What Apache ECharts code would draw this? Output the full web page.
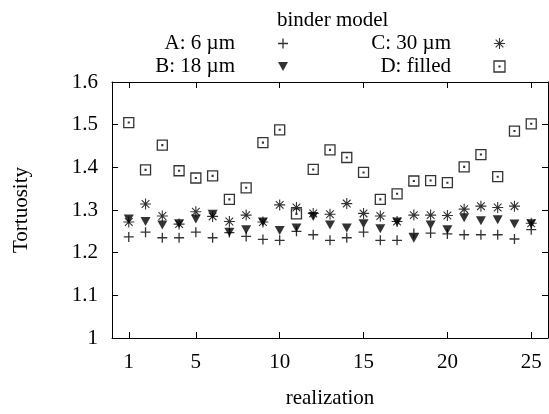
<!DOCTYPE html>
<html>
<head>
<meta charset="utf-8">
<script src="https://cdn.jsdelivr.net/npm/echarts@6/dist/echarts.min.js"></script>
<style>
  html, body { margin: 0; padding: 0; background: #fff; }
  #chart { width: 549px; height: 414px; }
</style>
</head>
<body>
<div id="chart"></div>
<script>
// realization index 1..25
const realization = [1, 2, 3, 4, 5, 6, 7, 8, 9, 10, 11, 12, 13, 14, 15, 16, 17, 18, 19, 20, 21, 22, 23, 24, 25]
const xTicks = [1, 5, 10, 15, 20, 25]

// tortuosity per binder model
const modelA = [1.237, 1.248, 1.235, 1.235, 1.248, 1.235, 1.247, 1.238, 1.231, 1.229, 1.250, 1.242, 1.229, 1.235, 1.248, 1.229, 1.229, 1.245, 1.246, 1.244, 1.242, 1.242, 1.242, 1.232, 1.254]
const modelB = [1.279, 1.273, 1.265, 1.268, 1.279, 1.290, 1.248, 1.254, 1.272, 1.252, 1.258, 1.285, 1.265, 1.258, 1.268, 1.256, 1.272, 1.234, 1.265, 1.254, 1.282, 1.275, 1.277, 1.267, 1.268]
const modelC = [1.272, 1.314, 1.286, 1.267, 1.296, 1.285, 1.273, 1.288, 1.272, 1.312, 1.306, 1.292, 1.290, 1.315, 1.292, 1.286, 1.273, 1.288, 1.288, 1.287, 1.302, 1.309, 1.306, 1.309, 1.269]
const modelD = [1.505, 1.394, 1.452, 1.392, 1.375, 1.380, 1.325, 1.352, 1.458, 1.488, 1.291, 1.395, 1.441, 1.423, 1.388, 1.325, 1.338, 1.368, 1.369, 1.364, 1.401, 1.430, 1.378, 1.485, 1.502]

const font = 'Liberation Serif'
const fontSize = 21

/* gnuplot-like point types */
const symPlus = 'path://M5,0L5,10M0,5L10,5'
const symTri = 'path://M0,0L10,0L5,9Z'
const symStar = 'path://M5,0L5,10M0,5L10,5M1.5,1.5L8.5,8.5M1.5,8.5L8.5,1.5'
const symBox = 'path://M0,0L10,0L10,10L0,10ZM4.6,4.6L5.4,4.6L5.4,5.4L4.6,5.4Z'

const strokeStyle = { color: 'none', borderColor: '#000', borderWidth: 1.3 }
const starStyle = { color: 'none', borderColor: '#000', borderWidth: 1.1 }
const fillStyle = { color: '#000', borderWidth: 0 }

function pairs(vals) {
  return realization.map((r, i) => [r, vals[i]])
}

const chart = echarts.init(document.getElementById('chart'))

const legendText = {
  fontFamily: font,
  fontSize: fontSize,
  color: '#000',
  rich: {
    t: { width: 120, align: 'right', padding: [0, 38, 0, 0], fontFamily: font, fontSize: fontSize, lineHeight: 22 }
  }
}

chart.setOption({
  animation: false,
  title: {
    text: 'binder model',
    left: 272,
    top: 5,
    textStyle: { fontFamily: font, fontSize: fontSize, fontWeight: 'normal', color: '#000' }
  },
  legend: [
    {
      orient: 'vertical',
      align: 'right',
      left: 115,
      top: 33,
      padding: 0,
      itemGap: 2,
      itemWidth: 10,
      itemHeight: 10,
      formatter: '{t|{name}}',
      textStyle: legendText,
      data: [
        { name: 'A: 6 µm', icon: symPlus, itemStyle: strokeStyle },
        { name: 'B: 18 µm', icon: symTri, itemStyle: fillStyle }
      ]
    },
    {
      orient: 'vertical',
      align: 'right',
      left: 331,
      top: 33,
      padding: 0,
      itemGap: 2,
      itemWidth: 11,
      itemHeight: 11,
      formatter: '{t|{name}}',
      textStyle: legendText,
      data: [
        { name: 'C: 30 µm', icon: symStar, itemStyle: starStyle },
        { name: 'D: filled', icon: symBox, itemStyle: strokeStyle }
      ]
    }
  ],
  grid: { left: 112, right: 1, top: 82, bottom: 73 },
  xAxis: [
    {
      type: 'value',
      min: 0,
      max: 26,
      name: 'realization',
      nameLocation: 'middle',
      nameGap: 50,
      nameTextStyle: { fontFamily: font, fontSize: fontSize, color: '#000' },
      axisLine: { show: true, onZero: false, lineStyle: { color: '#000', width: 1 } },
      axisTick: { inside: true, length: 6, customValues: xTicks, lineStyle: { color: '#000' } },
      axisLabel: { customValues: xTicks, margin: 14, fontFamily: font, fontSize: fontSize, color: '#000' },
      splitLine: { show: false }
    },
    {
      type: 'value',
      position: 'top',
      min: 0,
      max: 26,
      axisLine: { show: true, onZero: false, lineStyle: { color: '#000', width: 1 } },
      axisTick: { inside: true, length: 6, customValues: xTicks, lineStyle: { color: '#000' } },
      axisLabel: { show: false },
      splitLine: { show: false }
    }
  ],
  yAxis: [
    {
      type: 'value',
      min: 1,
      max: 1.6,
      interval: 0.1,
      name: 'Tortuosity',
      nameLocation: 'middle',
      nameRotate: 90,
      nameGap: 80,
      nameTextStyle: { fontFamily: font, fontSize: fontSize, color: '#000' },
      axisLine: { show: true, onZero: false, lineStyle: { color: '#000', width: 1 } },
      axisTick: { inside: true, length: 6, lineStyle: { color: '#000' } },
      axisLabel: { margin: 14, fontFamily: font, fontSize: fontSize, color: '#000' },
      splitLine: { show: false }
    },
    {
      type: 'value',
      position: 'right',
      min: 1,
      max: 1.6,
      interval: 0.1,
      axisLine: { show: true, onZero: false, lineStyle: { color: '#000', width: 1 } },
      axisTick: { inside: true, length: 6, lineStyle: { color: '#000' } },
      axisLabel: { show: false },
      splitLine: { show: false }
    }
  ],
  series: [
    {
      name: 'A: 6 µm',
      type: 'scatter',
      symbol: symPlus,
      symbolSize: 10,
      itemStyle: strokeStyle,
      data: pairs(modelA)
    },
    {
      name: 'B: 18 µm',
      type: 'scatter',
      symbol: symTri,
      symbolSize: [10, 9],
      itemStyle: fillStyle,
      data: pairs(modelB)
    },
    {
      name: 'C: 30 µm',
      type: 'scatter',
      symbol: symStar,
      symbolSize: 11,
      itemStyle: starStyle,
      data: pairs(modelC)
    },
    {
      name: 'D: filled',
      type: 'scatter',
      symbol: symBox,
      symbolSize: 10,
      itemStyle: strokeStyle,
      data: pairs(modelD)
    }
  ]
})
</script>
</body>
</html>
